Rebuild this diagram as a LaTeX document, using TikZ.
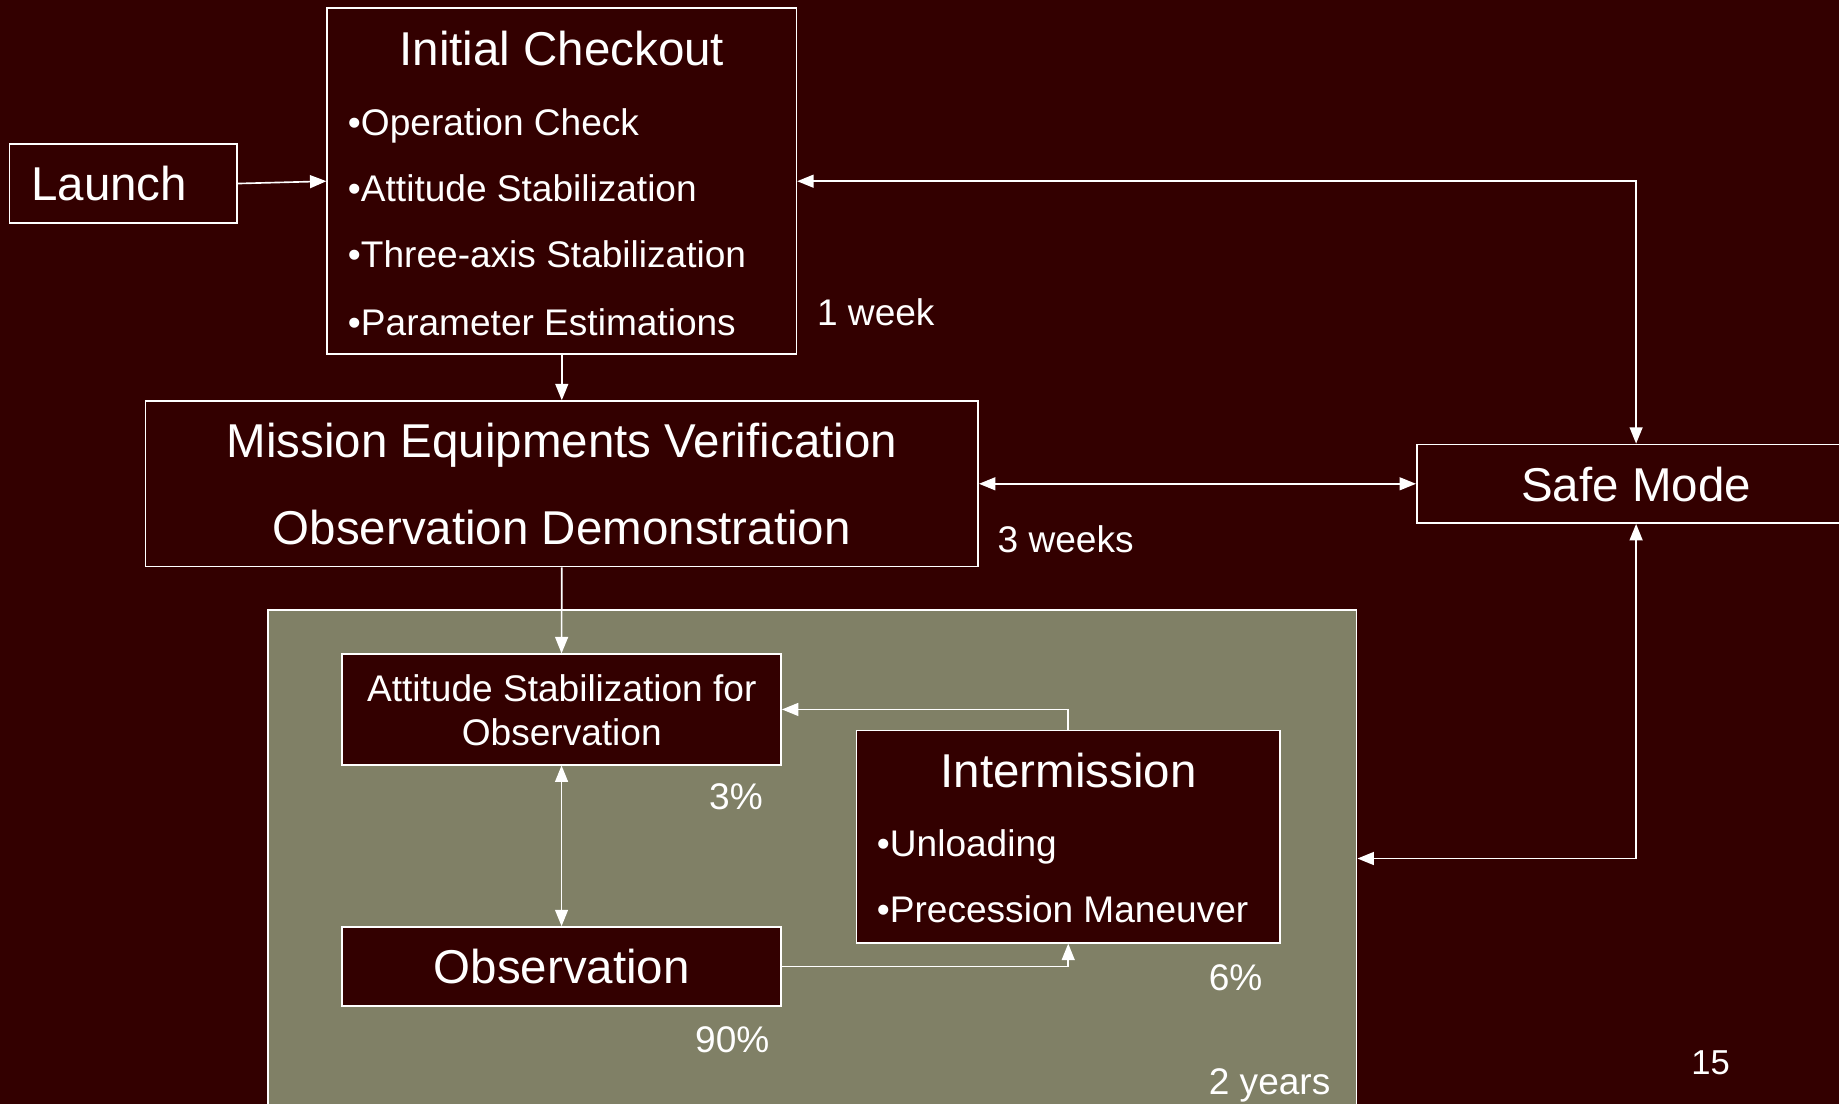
\documentclass[tikz,border=0pt]{standalone}
\usepackage{fontspec}
\setmainfont{Liberation Sans}
\usetikzlibrary{arrows.meta}
\definecolor{bgred}{HTML}{330000}
\definecolor{panelgreen}{HTML}{808066}
\begin{document}
\begin{tikzpicture}[x=1pt,y=-1pt,
  box/.style={draw=white, line width=1.4pt, fill=bgred, inner sep=0pt},
  big/.style={text=white, font=\fontsize{40.5}{48}\selectfont, inner sep=0pt},
  small/.style={text=white, font=\fontsize{31.6}{38}\selectfont, inner sep=0pt},
  conn/.style={draw=white, line width=1.4pt},
  >={Triangle[length=14pt,width=11pt]}]
\fill[bgred] (0,0) rectangle (1568,941);
\useasboundingbox (0,0) rectangle (1568,941);
\clip (0,0) rectangle (1568,941);

% panel
\node[draw=white, line width=1.4pt, fill=panelgreen, inner sep=0pt,
      minimum width=928pt, minimum height=470pt, anchor=north west] (panel) at (228,519.6) {};

% boxes
\node[box, minimum width=194pt, minimum height=67pt] (launch) at (105,156.5) {};
\node[box, minimum width=400pt, minimum height=295pt] (ic) at (479,154.5) {};
\node[box, minimum width=710pt, minimum height=141pt] (mev) at (479,412.5) {};
\node[box, minimum width=374pt, minimum height=67pt] (safe) at (1395,412.5) {};
\node[box, minimum width=374.4pt, minimum height=94.2pt] (asb) at (478.8,604.9) {};
\node[box, minimum width=374.4pt, minimum height=67.2pt] (obs) at (478.8,824) {};
\node[box, minimum width=360.8pt, minimum height=181.1pt] (int) at (910.8,713.35) {};

% texts
\node[big, anchor=base west] (tlaunch) at (26.5,171) {Launch};
\node[big, anchor=base] (tic) at (479,56) {Initial Checkout};
\node[small, anchor=base west] (ic1) at (296.5,115.5) {•Operation Check};
\node[small, anchor=base west] (ic2) at (296.5,172) {•Attitude Stabilization};
\node[small, anchor=base west] (ic3) at (296.5,228.5) {•Three-axis Stabilization};
\node[small, anchor=base west] (ic4) at (296.5,286) {•Parameter Estimations};
\node[big, anchor=base] (mev1) at (479,390) {Mission Equipments Verification};
\node[big, anchor=base] (mev2) at (479,464) {Observation Demonstration};
\node[big, anchor=base] (tsafe) at (1395,427.5) {Safe Mode};
\node[small, anchor=base] (asb1) at (479,597.8) {Attitude Stabilization for};
\node[small, anchor=base] (asb2) at (479,636) {Observation};
\node[big, anchor=base] (tobs) at (479,838.9) {Observation};
\node[big, anchor=base] (tint) at (911,671.7) {Intermission};
\node[small, anchor=base west] (int1) at (747.5,730.4) {•Unloading};
\node[small, anchor=base west] (int2) at (747.5,786.7) {•Precession Maneuver};

% labels
\node[small, anchor=base west] (lweek) at (696.5,277.5) {1 week};
\node[small, anchor=base west] (lweeks) at (850.5,471) {3 weeks};
\node[small, anchor=base west] (l3) at (604.5,690.5) {3\%};
\node[small, anchor=base west] (l90) at (592.5,897) {90\%};
\node[small, anchor=base west] (l6) at (1030.5,844.5) {6\%};
\node[small, anchor=base west] (lyears) at (1030.5,933.5) {2 years};
\node[text=white, font=\fontsize{29.5}{35}\selectfont, inner sep=0pt, anchor=base west] (pnum) at (1442,916) {15};

% connectors
\coordinate (smjoin) at (1395,732);
\draw[conn,->] (launch.east) -- (ic.west);
\draw[conn,<->] (ic.east) -| (safe.north);
\draw[conn,->] (ic.south) -- (mev.north);
\draw[conn,<->] (mev.east) -- (safe.west);
\draw[conn,->] (mev.south) -- (asb.north);
\draw[conn,<->] (asb.south) -- (obs.north);
\draw[conn,->] (obs.east) -| (int.south);
\draw[conn,->] (int.north) |- (asb.east);
\draw[conn,<->] (safe.south) -- (smjoin) -- (panel.east |- smjoin);
\end{tikzpicture}
\end{document}
